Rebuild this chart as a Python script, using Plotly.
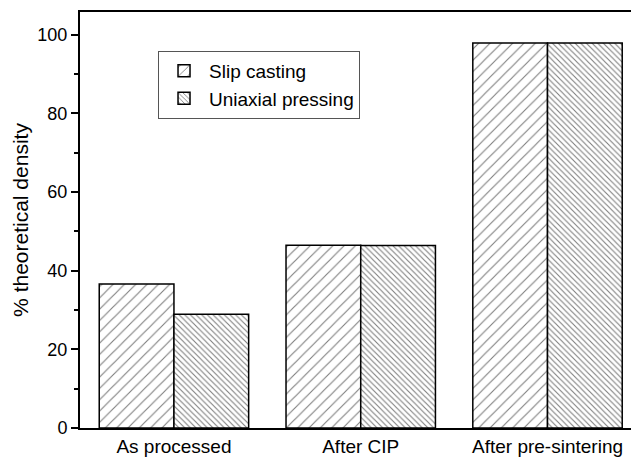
import plotly.graph_objects as go

categories = ["As processed", "After CIP", "After pre-sintering"]
slip_casting = [36.6, 46.5, 97.9]
uniaxial_pressing = [28.9, 46.4, 97.9]
y_ticks = [0, 20, 40, 60, 80, 100]

FONT = "Liberation Sans, Arial, sans-serif"

fig = go.Figure()
fig.add_trace(go.Bar(
    x=categories, y=slip_casting, name="Slip casting",
    marker=dict(color="white", line=dict(color="black", width=1.5),
                pattern=dict(shape="/", size=8, solidity=0.14,
                             fgcolor="black", bgcolor="white")),
))
fig.add_trace(go.Bar(
    x=categories, y=uniaxial_pressing, name="Uniaxial pressing",
    marker=dict(color="white", line=dict(color="black", width=1.5),
                pattern=dict(shape="\\", size=4, solidity=0.28,
                             fgcolor="black", bgcolor="white")),
))

fig.update_layout(
    width=631, height=457,
    margin=dict(l=80, r=0, t=12, b=27),
    paper_bgcolor="white", plot_bgcolor="white",
    font=dict(family=FONT, size=18, color="black"),
    barmode="group", bargap=0.2, bargroupgap=0,
    showlegend=True,
    legend=dict(x=0.1416, y=0.9067, xanchor="left", yanchor="top",
                bordercolor="#555555", borderwidth=1, bgcolor="white",
                itemwidth=40, tracegroupgap=0,
                font=dict(size=19, family=FONT)),
)
fig.update_xaxes(
    range=[-0.503, 2.447], showline=True, linecolor="black", linewidth=2,
    mirror=True, ticks="", showgrid=False, zeroline=False,
    tickfont=dict(size=19),
)
fig.update_yaxes(
    range=[0, 105.8], showline=True, linecolor="black", linewidth=2,
    ticks="outside", ticklen=7, tickwidth=1.5, tickcolor="black",
    tickvals=y_ticks, showgrid=False, zeroline=False,
    minor=dict(ticks="outside", ticklen=4, tickwidth=1.5, tickcolor="black", dtick=10, tick0=0),
    tickfont=dict(size=18),
    title=dict(text="% theoretical density", font=dict(size=21), standoff=3),
)

fig.write_html("out.html")
